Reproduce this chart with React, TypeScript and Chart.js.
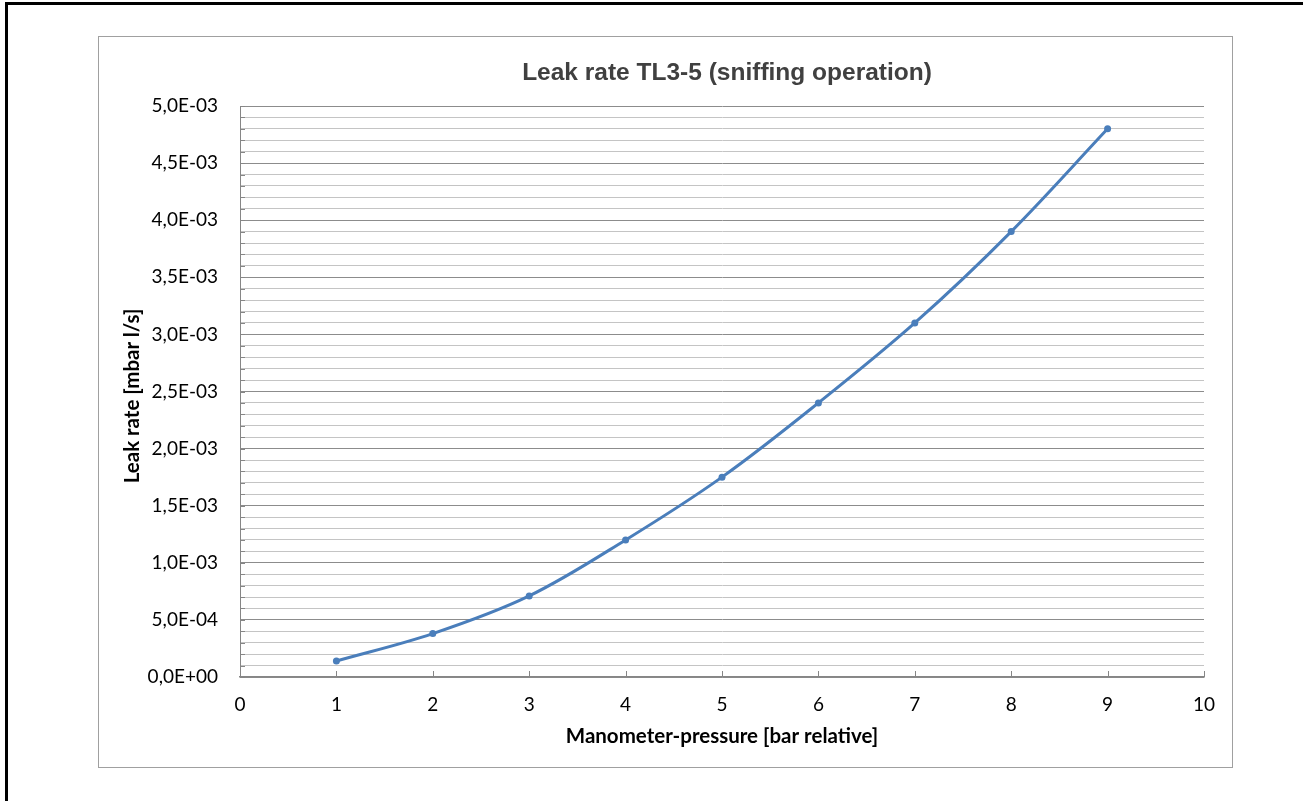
import React, { useEffect, useRef } from "react";
import { Chart, registerables } from "chart.js";

Chart.register(...registerables);

const chartTitle = "Leak rate TL3-5 (sniffing operation)";
const xAxisTitle = "Manometer-pressure [bar relative]";
const yAxisTitle = "Leak rate [mbar l/s]";

const pressures = [1, 2, 3, 4, 5, 6, 7, 8, 9];
const leakRates = [1.4e-4, 3.8e-4, 7.1e-4, 1.2e-3, 1.75e-3, 2.4e-3, 3.1e-3, 3.9e-3, 4.8e-3];

const xTickLabels = ["0", "1", "2", "3", "4", "5", "6", "7", "8", "9", "10"];
const yTickLabels = [
  "0,0E+00", "5,0E-04", "1,0E-03", "1,5E-03", "2,0E-03", "2,5E-03",
  "3,0E-03", "3,5E-03", "4,0E-03", "4,5E-03", "5,0E-03",
];

const innerTicks = {
  id: "innerTicks",
  afterDraw(chart: any) {
    const { ctx, chartArea, scales } = chart;
    ctx.save();
    ctx.strokeStyle = "#868686";
    ctx.lineWidth = 1;
    scales.y.ticks.forEach((t: any) => {
      const y = Math.round(scales.y.getPixelForValue(t.value)) + 0.5;
      ctx.beginPath();
      ctx.moveTo(chartArea.left, y);
      ctx.lineTo(chartArea.left + 5, y);
      ctx.stroke();
    });
    scales.x.ticks.forEach((t: any) => {
      const x = Math.round(scales.x.getPixelForValue(t.value)) + 0.5;
      ctx.beginPath();
      ctx.moveTo(x, chartArea.bottom);
      ctx.lineTo(x, chartArea.bottom - 6);
      ctx.stroke();
    });
    ctx.restore();
  },
};

export default function App() {
  const ref = useRef<HTMLCanvasElement | null>(null);

  useEffect(() => {
    document.body.style.overflow = "hidden";
    const canvas = ref.current;
    if (!canvas) return;
    const chart = new Chart(canvas, {
      type: "line",
      data: {
        datasets: [
          {
            data: pressures.map((p, i) => ({ x: p, y: leakRates[i] })),
            borderColor: "#4a7ebb",
            backgroundColor: "#4a7ebb",
            borderWidth: 3,
            pointRadius: 3.5,
            pointBorderWidth: 0,
            tension: 0.35,
            fill: false,
          },
        ],
      },
      options: {
        responsive: false,
        animation: false,
        layout: { padding: { left: 0, right: 28, top: 69, bottom: 0 } },
        plugins: {
          legend: { display: false },
          tooltip: { enabled: false },
          title: { display: false },
        },
        scales: {
          x: {
            type: "linear",
            min: 0,
            max: 10,
            afterFit: (s: any) => { s.height = 90; },
            ticks: {
              stepSize: 1,
              autoSkip: false,
              maxRotation: 0,
              padding: 16,
              color: "#000",
              font: { family: "Lato, 'Open Sans', sans-serif", size: 19 },
              callback: (v: any) => xTickLabels[Math.round(Number(v))] ?? "",
            },
            grid: { display: false, drawTicks: false },
            border: { display: true, color: "#868686", width: 1.5 },
            title: {
              display: true,
              text: xAxisTitle,
              color: "#000",
              font: { family: "Lato, 'Open Sans', sans-serif", size: 20.5, weight: "bold", lineHeight: 1.2 },
              padding: { top: 0, bottom: 18 },
            },
          },
          y: {
            type: "linear",
            min: 0,
            max: 0.005,
            afterFit: (s: any) => { s.width = 141; },
            ticks: {
              stepSize: 0.0001,
              autoSkip: false,
              maxTicksLimit: 100,
              padding: 22,
              color: "#000",
              font: { family: "Lato, 'Open Sans', sans-serif", size: 19 },
              callback: (v: any, i: number) => (i % 5 === 0 ? yTickLabels[i / 5] ?? "" : ""),
            },
            grid: {
              drawTicks: false,
              color: (c: any) => (c.index % 5 === 0 ? "#8c8c8c" : "#c4c4c4"),
              lineWidth: 1,
            },
            border: { display: true, color: "#868686", width: 1 },
            title: { display: false },
          },
        },
      } as any,
      plugins: [innerTicks],
    });
    return () => chart.destroy();
  }, []);

  return (
    <div style={{ position: "fixed", left: 0, top: 0, width: 1303, height: 801, overflow: "hidden", background: "#fff" }}>
      <div
        style={{
          position: "absolute",
          left: 5,
          top: 2,
          width: 1400,
          height: 900,
          border: "3px solid #000",
          boxSizing: "border-box",
        }}
      />
      <div
        style={{
          position: "absolute",
          left: 98,
          top: 36,
          width: 1135,
          height: 732,
          border: "1px solid #a0a0a0",
          boxSizing: "border-box",
          background: "#fff",
        }}
      >
        <canvas ref={ref} width={1133} height={730} style={{ display: "block", width: 1133, height: 730 }} />
      </div>
      <div
        style={{
          position: "absolute",
          left: 327,
          top: 57,
          width: 800,
          height: 30,
          lineHeight: "30px",
          textAlign: "center",
          fontFamily: "'Liberation Sans', Arial, sans-serif",
          fontWeight: "bold",
          fontSize: 24.5,
          color: "#404040",
          whiteSpace: "nowrap",
        }}
      >
        {chartTitle}
      </div>
      <div
        style={{
          position: "absolute",
          left: 131 - 150,
          top: 396 - 13,
          width: 300,
          height: 26,
          lineHeight: "26px",
          textAlign: "center",
          fontFamily: "Lato, 'Open Sans', sans-serif",
          fontWeight: "bold",
          fontSize: 20.5,
          color: "#000",
          whiteSpace: "nowrap",
          transform: "rotate(-90deg)",
        }}
      >
        {yAxisTitle}
      </div>
    </div>
  );
}
